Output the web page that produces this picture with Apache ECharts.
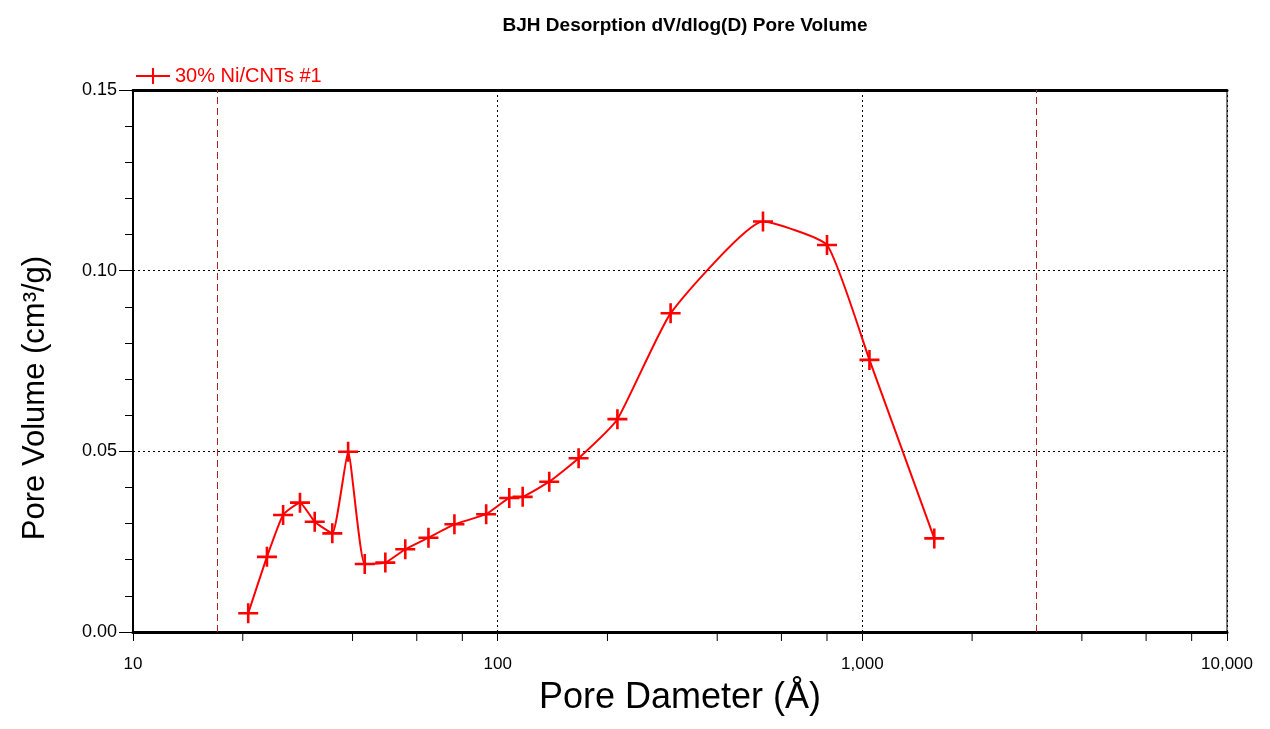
<!DOCTYPE html>
<html>
<head>
<meta charset="utf-8">
<script src="https://cdn.jsdelivr.net/npm/echarts@6/dist/echarts.min.js"></script>
<style>html,body{margin:0;padding:0;background:#fff;}#c{width:1270px;height:729px;}</style>
</head>
<body>
<div id="c"></div>
<script>
// Data
const poreDiameter = [20.7, 23.3, 25.8, 28.7, 31.5, 35.2, 38.9, 43.2, 49.2, 55.8, 64.6, 76.1, 93.0, 107.6, 117.1, 138.5, 166.7, 213, 298, 534, 800, 1046, 1575];
const poreVolume   = [0.0052, 0.0208, 0.0324, 0.0358, 0.0305, 0.0273, 0.0499, 0.0188, 0.0192, 0.0229, 0.0261, 0.0298, 0.0326, 0.0371, 0.0374, 0.0416, 0.0481, 0.0589, 0.0882, 0.1136, 0.1071, 0.0753, 0.0259];
const seriesName = '30% Ni/CNTs #1';
const rangeLimits = [17, 3000];
const xMajorTicks = [10, 100, 1000, 10000];
const xMinorTicks = [20, 40, 60, 80, 200, 400, 600, 800, 2000, 4000, 6000, 8000];
const yTicks = [0, 0.05, 0.10, 0.15];

const font = '"Liberation Sans", Arial, sans-serif';
const chart = echarts.init(document.getElementById('c'), null, {renderer: 'canvas'});
const plus = 'path://M-1.3,-10 H1.3 V-1.3 H10 V1.3 H1.3 V10 H-1.3 V1.3 H-10 V-1.3 H-1.3 Z';

chart.setOption({
  animation: false,
  backgroundColor: '#fff',
  title: {
    text: 'BJH Desorption dV/dlog(D) Pore Volume',
    left: 680, top: 11, textAlign: 'center',
    textStyle: {fontFamily: font, fontWeight: 'bold', fontSize: 19, color: '#000'}
  },
  legend: {
    left: 130, top: 61,
    itemWidth: 34, itemHeight: 20, itemGap: 10,
    textStyle: {fontFamily: font, fontSize: 20, color: '#ff0000'},
    data: [seriesName]
  },
  graphic: [{
    type: 'text', z: 10,
    x: 35, y: 398, rotation: Math.PI / 2,
    style: {text: 'Pore Volume (cm³/g)', font: '31px ' + font, fill: '#000',
            textAlign: 'center', textVerticalAlign: 'middle'}
  }],
  grid: {left: 133, right: 43, top: 90, bottom: 97, containLabel: false,
         show: true, borderColor: '#000', borderWidth: 1},
  xAxis: [{
    type: 'log', logBase: 10, min: xMajorTicks[0], max: xMajorTicks[xMajorTicks.length - 1],
    axisLine: {show: true, lineStyle: {color: '#000', width: 3}},
    axisTick: {show: true, length: 9, lineStyle: {color: '#000', width: 1}},
    axisLabel: {fontFamily: font, fontSize: 17, color: '#000', margin: 24,
      formatter: v => Math.round(v).toLocaleString('en-US')},
    splitLine: {show: true, lineStyle: {color: '#000', type: [2, 3], width: 1}},
    name: 'Pore Dameter (Å)', nameLocation: 'middle', nameGap: 48,
    nameTextStyle: {fontFamily: font, fontSize: 36, color: '#000'}
  }, {
    type: 'log', logBase: 10, min: xMajorTicks[0], max: xMajorTicks[xMajorTicks.length - 1], position: 'top',
    axisLine: {show: true, lineStyle: {color: '#000', width: 3}},
    axisTick: {show: false}, axisLabel: {show: false}, splitLine: {show: false}
  }],
  yAxis: {
    type: 'value', min: yTicks[0], max: yTicks[yTicks.length - 1], interval: 0.05,
    axisLine: {show: true, lineStyle: {color: '#000', width: 2}},
    axisTick: {show: true, length: 14, lineStyle: {color: '#000', width: 1}},
    minorTick: {show: true, splitNumber: 5, length: 8, lineStyle: {color: '#000', width: 1}},
    axisLabel: {fontFamily: font, fontSize: 18, color: '#000', margin: 16,
      formatter: v => v.toFixed(2)},
    splitLine: {show: true, lineStyle: {color: '#000', type: [2, 3], width: 1}}
  },
  series: [{
    name: seriesName,
    type: 'line',
    xAxisIndex: 0,
    data: poreDiameter.map((d, i) => [d, poreVolume[i]]),
    smooth: 0.15,
    symbol: plus, symbolSize: 20,
    itemStyle: {color: '#ff0000'},
    lineStyle: {color: '#ff0000', width: 2},
    markLine: {
      silent: true, symbol: 'none', label: {show: false},
      lineStyle: {color: '#b22222', type: [7, 4], width: 1},
      data: rangeLimits.map(v => ({xAxis: v}))
    },
    z: 5
  }, {
    type: 'custom',
    xAxisIndex: 0,
    silent: true,
    clip: false,
    data: xMinorTicks.map(v => [v, 0]),
    renderItem: (params, api) => {
      const p = api.coord([api.value(0), 0]);
      return {type: 'line', shape: {x1: p[0], y1: p[1], x2: p[0], y2: p[1] + 9},
              style: {stroke: '#000', lineWidth: 1}};
    },
    z: 4
  }]
});
</script>
</body>
</html>
